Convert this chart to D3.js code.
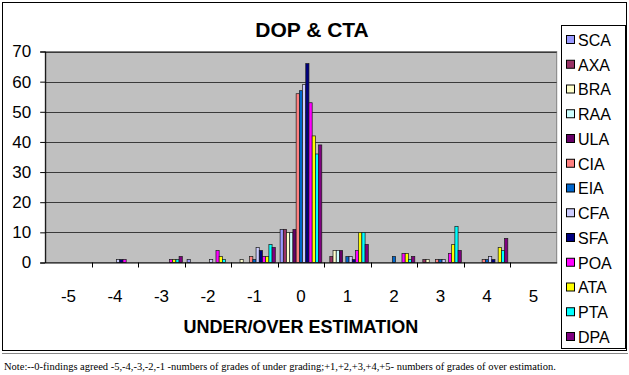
<!DOCTYPE html>
<html>
<head>
<meta charset="utf-8">
<script src="https://cdn.jsdelivr.net/npm/d3@7"></script>
<style>
  html, body { margin: 0; padding: 0; background: #fff; }
  svg { display: block; }
</style>
</head>
<body>
<svg id="chart" width="629" height="375"></svg>
<script>
const categories = ["-5", "-4", "-3", "-2", "-1", "0", "1", "2", "3", "4", "5"];
const seriesNames = ["SCA", "AXA", "BRA", "RAA", "ULA", "CIA", "EIA", "CFA", "SFA", "POA", "ATA", "PTA", "DPA"];
const seriesColors = ["#9999FF", "#993366", "#FFFFCC", "#CCFFFF", "#660066", "#FF8080", "#0066CC", "#CCCCFF", "#000080", "#FF00FF", "#FFFF00", "#00FFFF", "#800080"];
// values per series, aligned with categories -5..5
const SCA = [0, 0, 0, 1, 0, 11, 0, 0, 0, 0, 0];
const AXA = [0, 0, 0, 0, 0, 11, 2, 0, 1, 0, 0];
const BRA = [0, 0, 0, 0, 1, 10, 4, 0, 1, 0, 0];
const RAA = [0, 0, 0, 0, 0, 10, 4, 0, 0, 0, 0];
const ULA = [0, 0, 0, 0, 0, 11, 4, 0, 0, 0, 0];
const CIA = [0, 0, 0, 0, 2, 56, 0, 0, 1, 1, 0];
const EIA = [0, 0, 0, 0, 1, 57, 2, 2, 1, 1, 0];
const CFA = [0, 1, 0, 1, 5, 59, 2, 0, 1, 2, 0];
const SFA = [0, 1, 0, 0, 4, 66, 1, 0, 0, 1, 0];
const POA = [0, 1, 1, 4, 2, 53, 4, 3, 3, 0, 0];
const ATA = [0, 0, 1, 2, 2, 42, 10, 3, 6, 5, 0];
const PTA = [0, 0, 1, 1, 6, 36, 10, 1, 12, 4, 0];
const DPA = [0, 0, 2, 0, 5, 39, 6, 2, 4, 8, 0];
const yTicks = [0, 10, 20, 30, 40, 50, 60, 70];
const titleText = "DOP & CTA";
const xTitleText = "UNDER/OVER ESTIMATION";
const noteText = "Note:--0-findings agreed -5,-4,-3,-2,-1 -numbers of grades of under grading;+1,+2,+3,+4,+5- numbers of grades of over estimation.";

const seriesValues = [SCA, AXA, BRA, RAA, ULA, CIA, EIA, CFA, SFA, POA, ATA, PTA, DPA];

const svg = d3.select("#chart");
const plot = { left: 45.2, right: 556.7, top: 51.5, bottom: 262.5 };

// outer chart border
svg.append("rect").attr("x", 2.5).attr("y", 2.5).attr("width", 624).attr("height", 348)
  .attr("fill", "#fff").attr("stroke", "#000").attr("stroke-width", 1);
svg.append("line").attr("x1", 2).attr("x2", 628).attr("y1", 353.5).attr("y2", 353.5)
  .attr("stroke", "#888").attr("stroke-width", 1);

const x0 = d3.scaleBand().domain(categories).range([plot.left, plot.right]).paddingInner(0).paddingOuter(0);
const x1 = d3.scaleBand().domain(seriesNames).range([0, x0.bandwidth()]).paddingInner(0).paddingOuter(0.75);
const y = d3.scaleLinear().domain([0, 70]).range([plot.bottom, plot.top]);
const color = d3.scaleOrdinal().domain(seriesNames).range(seriesColors);

// plot area
svg.append("rect").attr("x", plot.left).attr("y", plot.top)
  .attr("width", plot.right - plot.left).attr("height", plot.bottom - plot.top)
  .attr("fill", "#C0C0C0").attr("stroke", "#808080").attr("stroke-width", 1);

// gridlines
svg.append("g").selectAll("line").data(yTicks.filter(d => d > 0)).join("line")
  .attr("x1", plot.left).attr("x2", plot.right)
  .attr("y1", d => Math.round(y(d)) + 0.5).attr("y2", d => Math.round(y(d)) + 0.5)
  .attr("stroke", "#3a3a3a").attr("stroke-width", 1);

// bars
const flat = [];
categories.forEach((c, ci) => {
  seriesNames.forEach((s, si) => {
    const v = seriesValues[si][ci];
    if (v > 0) flat.push({ c, s, v });
  });
});
svg.append("g").selectAll("rect").data(flat).join("rect")
  .attr("x", d => x0(d.c) + x1(d.s))
  .attr("y", d => y(d.v))
  .attr("width", x1.bandwidth())
  .attr("height", d => y(0) - y(d.v))
  .attr("fill", d => color(d.s))
  .attr("stroke", "#1a1a1a").attr("stroke-width", 0.7);

// y axis
const yAxis = d3.axisLeft(y).tickValues(yTicks).tickSize(5).tickPadding(9);
const gy = svg.append("g").attr("transform", `translate(${plot.left},0)`).call(yAxis);
gy.select(".domain").attr("stroke", "#000");
gy.selectAll(".tick line").attr("stroke", "#000");
gy.selectAll("text").attr("font-family", "Liberation Sans, Arial, sans-serif").attr("font-size", 17).attr("fill", "#000");

// x axis
const xAxis = d3.axisBottom(x0).tickSize(0).tickPadding(27);
const gx = svg.append("g").attr("transform", `translate(0,${plot.bottom})`).call(xAxis);
gx.select(".domain").attr("stroke", "#000");
gx.selectAll("text").attr("font-family", "Liberation Sans, Arial, sans-serif").attr("font-size", 17).attr("fill", "#000");
// category separator ticks
gx.append("g").selectAll("line").data(categories.slice(1)).join("line")
  .attr("x1", d => Math.round(x0(d)) + 0.5).attr("x2", d => Math.round(x0(d)) + 0.5)
  .attr("y1", 0).attr("y2", 5).attr("stroke", "#000");

// title
svg.append("text").attr("x", 312).attr("y", 37).attr("text-anchor", "middle")
  .attr("font-family", "Liberation Sans, Arial, sans-serif").attr("font-weight", "bold")
  .attr("font-size", 21).text(titleText);

// x-axis title
svg.append("text").attr("x", (plot.left + plot.right) / 2).attr("y", 333).attr("text-anchor", "middle")
  .attr("font-family", "Liberation Sans, Arial, sans-serif").attr("font-weight", "bold")
  .attr("font-size", 18).text(xTitleText);

// legend
const lg = svg.append("g");
lg.append("rect").attr("x", 561.5).attr("y", 25.5).attr("width", 64).attr("height", 323)
  .attr("fill", "#fff").attr("stroke", "#000").attr("stroke-width", 1);
const items = lg.selectAll("g.item").data(seriesNames).join("g").attr("class", "item")
  .attr("transform", (d, i) => `translate(566,${40 + i * 24.75})`);
items.append("rect").attr("x", 0.5).attr("y", -4.5).attr("width", 8).attr("height", 8)
  .attr("fill", d => color(d)).attr("stroke", "#000").attr("stroke-width", 1);
items.append("text").attr("x", 12).attr("y", 0).attr("dy", "0.36em")
  .attr("font-family", "Liberation Sans, Arial, sans-serif").attr("font-size", 16).text(d => d);

// note
svg.append("text").attr("x", 4).attr("y", 370)
  .attr("font-family", "Liberation Serif, Times New Roman, serif").attr("font-size", 10.5)
  .text(noteText);
</script>
</body>
</html>
